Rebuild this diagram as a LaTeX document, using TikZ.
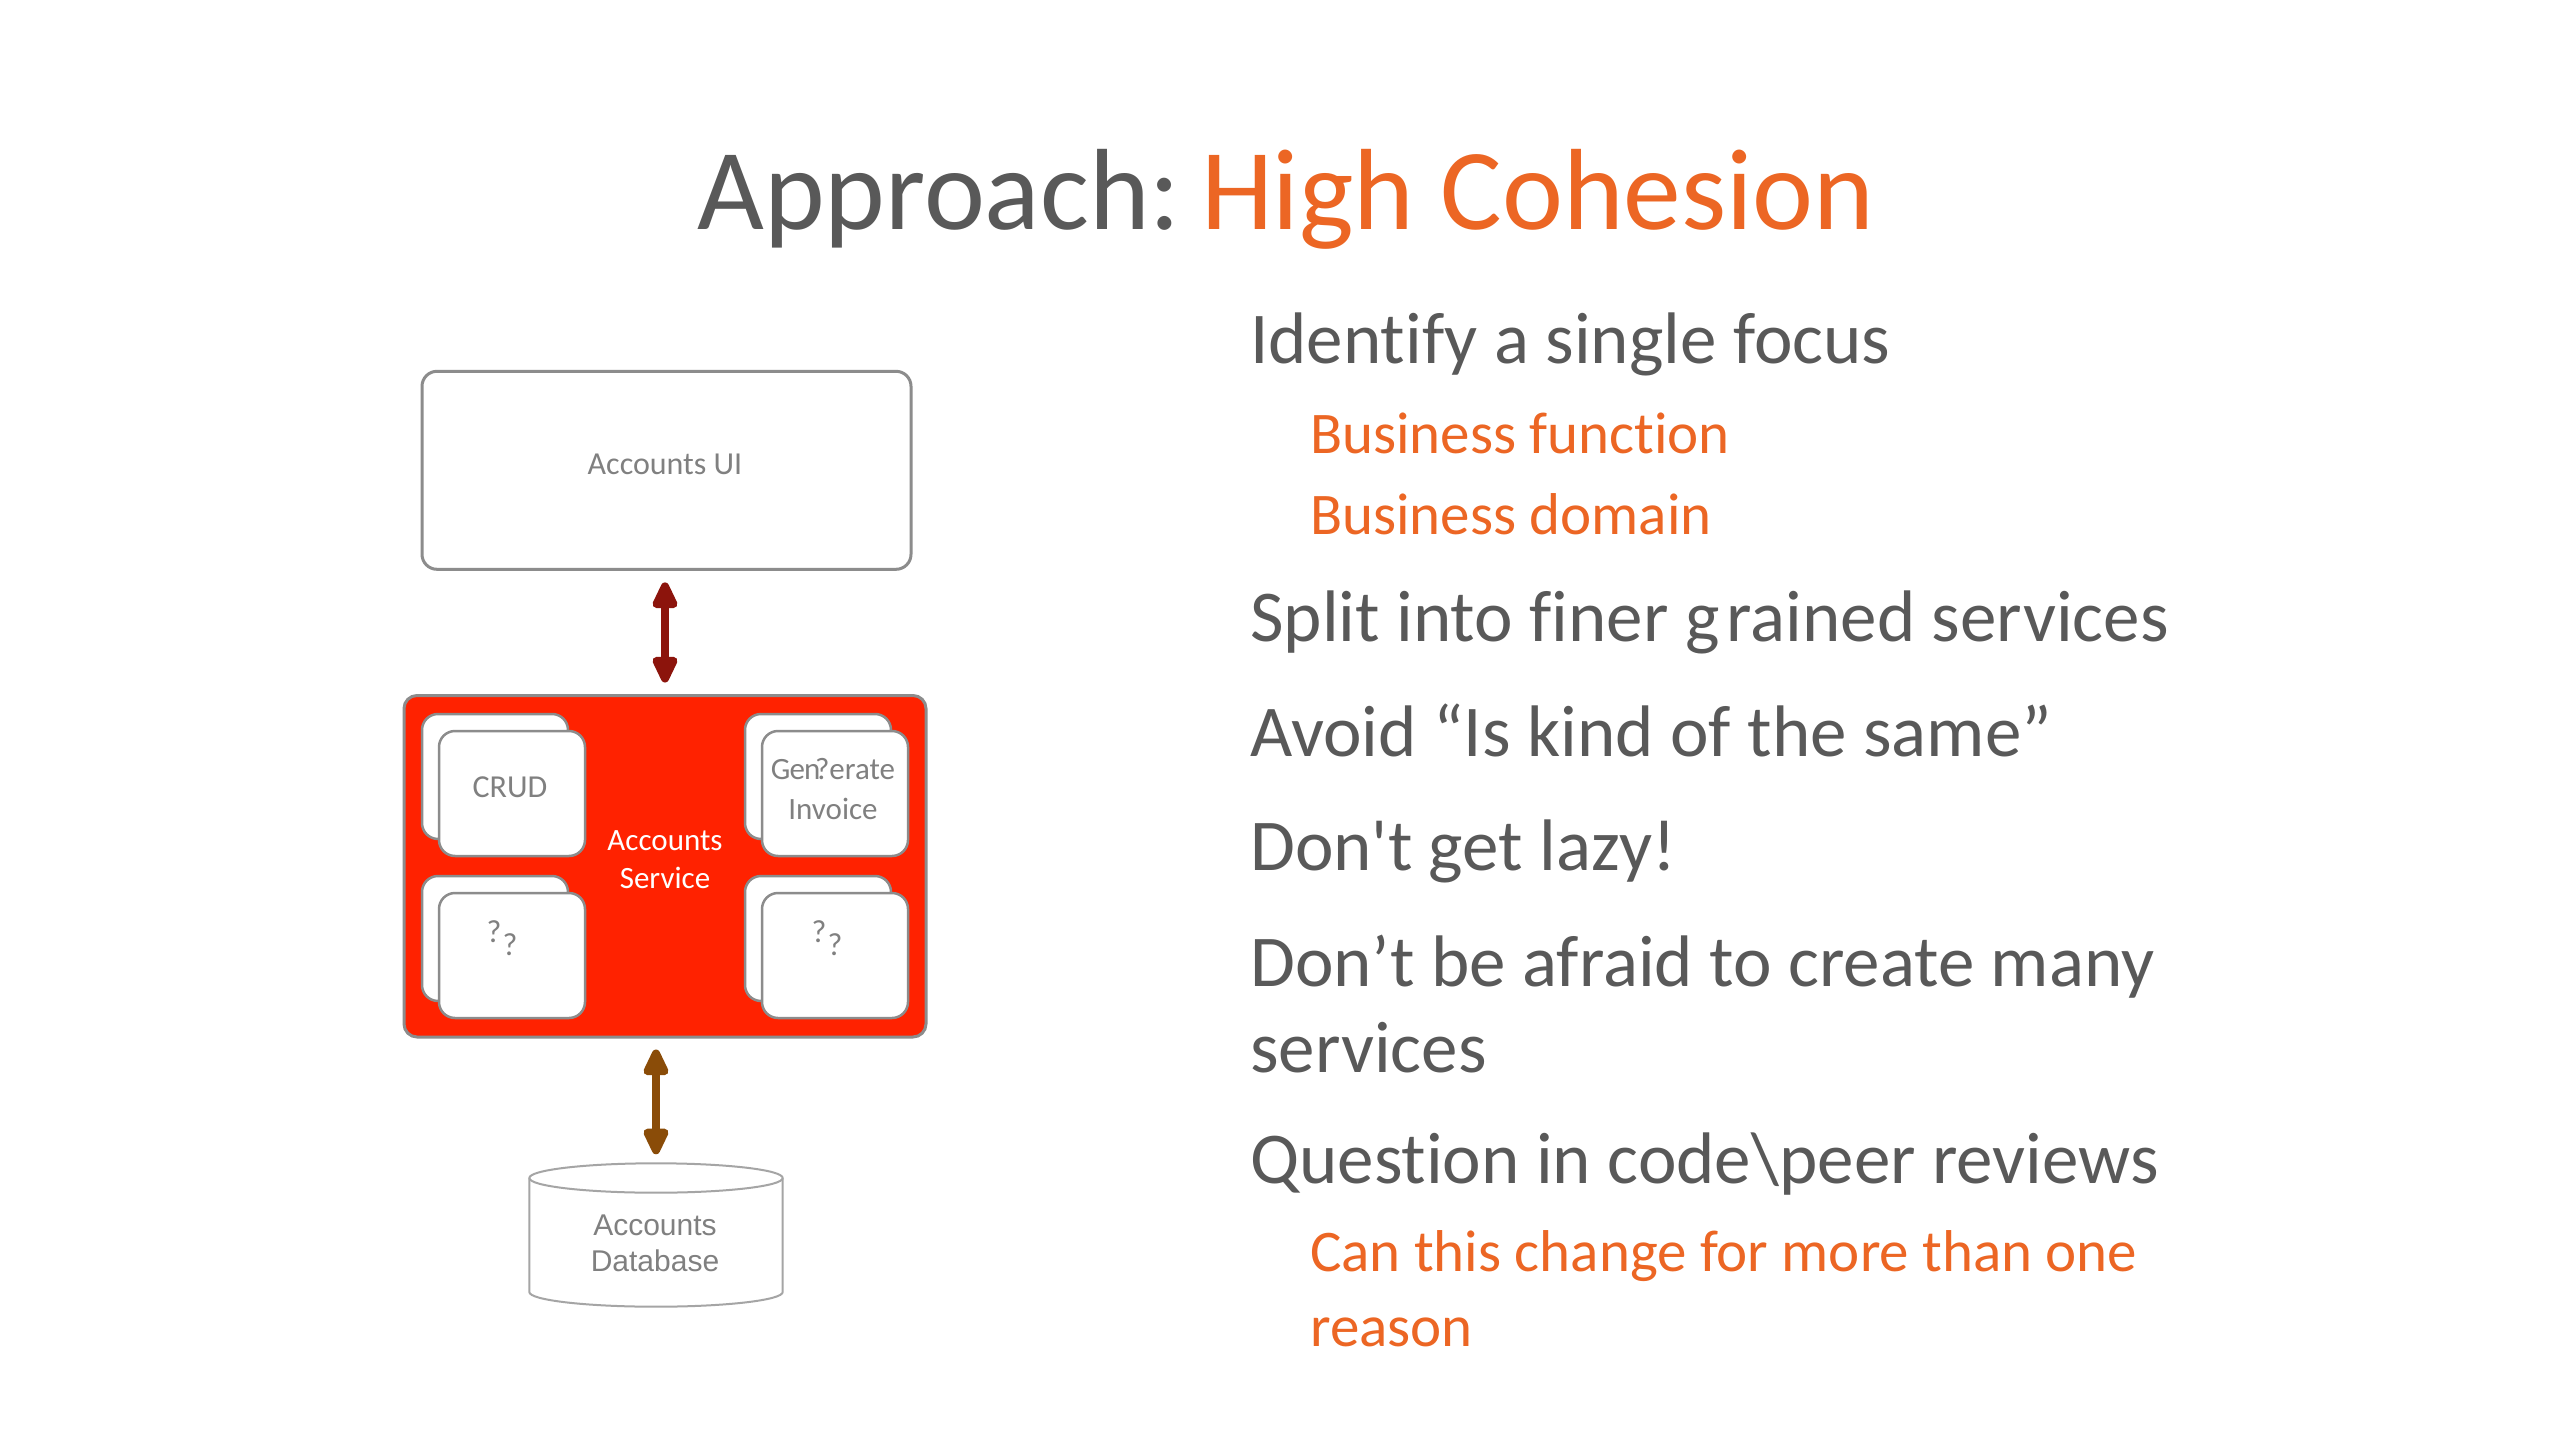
\documentclass[tikz,border=0pt]{standalone}
\usepackage{fontspec}
\setmainfont{Carlito}[Ligatures={TeX,NoCommon}]
\newfontfamily\dbfont{Liberation Sans}
\usetikzlibrary{arrows.meta}
\definecolor{txtgray}{RGB}{89,89,89}
\definecolor{hiorange}{RGB}{236,102,36}
\definecolor{boxgray}{RGB}{140,140,140}
\definecolor{lbl}{RGB}{128,128,128}
\definecolor{svcred}{RGB}{255,34,0}
\definecolor{arrred}{RGB}{140,20,12}
\definecolor{arrbrown}{RGB}{138,76,8}
\definecolor{dbgray}{RGB}{165,165,165}
\begin{document}
\begin{tikzpicture}[x=1pt,y=-1pt,
  bodytxt/.style={anchor=base west, inner sep=0pt, text=txtgray, font=\fontsize{73}{88}\selectfont},
  subtxt/.style={anchor=base west, inner sep=0pt, text=hiorange, font=\fontsize{59}{71}\selectfont},
  uibox/.style={draw=boxgray, line width=3pt, rounded corners=15pt, fill=white, inner sep=0pt},
  svcbox/.style={draw=boxgray, line width=3pt, rounded corners=13pt, fill=svcred, inner sep=0pt},
  card/.style={draw=boxgray, line width=2.5pt, rounded corners=16pt, fill=white, inner sep=0pt, minimum width=146pt, minimum height=125pt},
  lbltxt/.style={anchor=base, inner sep=0pt, text=lbl, font=\fontsize{32}{38}\selectfont},
  svctxt/.style={anchor=base, inner sep=0pt, text=white, font=\fontsize{31}{37}\selectfont},
  dbtxt/.style={anchor=base, inner sep=0pt, text=lbl, font=\dbfont\fontsize{30}{36}\selectfont},
  dblarrow/.style={line width=8.5pt, {Triangle[width=27pt,length=32pt,round]}-{Triangle[width=27pt,length=32pt,round]}}
]
\fill[white] (0,0) rectangle (2560,1439);
\useasboundingbox (0,0) rectangle (2560,1439);

% title
\node[anchor=base, inner sep=0pt, font=\fontsize{115.5}{138}\selectfont] (title) at (1286,230)
  {\textcolor{txtgray}{Approach:\kern-0.05em\ }\textcolor{hiorange}{High Cohesion}};

% right-hand text
\node[bodytxt] (t1) at (1250,363) {Identify a single focus};
\node[subtxt] (s1) at (1310,453) {Business function};
\node[subtxt] (s2) at (1310,534) {Business domain};
\node[bodytxt] (t2) at (1250,641) {Split into finer g\kern0.1em rained services};
\node[bodytxt] (t3) at (1250,756) {Avoid “Is kind of the same”};
\node[bodytxt] (t4) at (1250,870) {Don\textquotesingle t get lazy!};
\node[bodytxt] (t5) at (1250,986) {Don’t be afraid to create many};
\node[bodytxt] (t6) at (1250,1072) {services};
\node[bodytxt] (t7) at (1250,1183) {Question in code\textbackslash peer reviews};
\node[subtxt] (s3) at (1310,1271) {Can this change for more than one};
\node[subtxt] (s4) at (1310,1346) {reason};

% Accounts UI
\node[uibox, minimum width=489pt, minimum height=198pt] (ui) at (666.5,470.3) {};
\node[lbltxt] (uitxt) at (665,474) {Accounts UI};

% Accounts Service
\node[svcbox, minimum width=522pt, minimum height=341.5pt] (svc) at (665,866.25) {};
\node[svctxt] (svcA) at (665,850.6) {Accounts};
\node[svctxt] (svcB) at (665,888.2) {Service};

% stacked cards
\node[card] (tlb) at (495,776.5) {};
\node[card] (tlf) at (512,793.5) {};
\node[card] (trb) at (818,776.5) {};
\node[card] (trf) at (835,793.5) {};
\node[card] (blb) at (495,938.5) {};
\node[card] (blf) at (512,955.5) {};
\node[card] (brb) at (818,938.5) {};
\node[card] (brf) at (835,955.5) {};

\node[lbltxt] (crud) at (510,797.3) {CRUD};
\node[lbltxt, font=\fontsize{31}{37}\selectfont] (gen) at (833,779.3) {G\kern-0.03em e\kern-0.03em n\kern-0.17em ?erate};
\node[lbltxt, font=\fontsize{31}{37}\selectfont] (inv) at (833,819) {Invoice};
\node[lbltxt] (q1a) at (494,942) {?};
\node[lbltxt] (q1b) at (510,955) {?};
\node[lbltxt] (q2a) at (819,942) {?};
\node[lbltxt] (q2b) at (835,955) {?};

% database
\coordinate (dbtop) at (656,1163.3);
\filldraw[draw=dbgray, fill=white, line width=2pt]
  (529.3,1178) -- (529.3,1292)
  arc[start angle=180, end angle=360, x radius=126.7pt, y radius=14.7pt]
  -- (782.7,1178)
  arc[start angle=0, end angle=180, x radius=126.7pt, y radius=14.7pt] -- cycle;
\draw[draw=dbgray, line width=2pt] (529.3,1178)
  arc[start angle=180, end angle=360, x radius=126.7pt, y radius=14.7pt];
\node[dbtxt] (dbA) at (655,1235) {Accounts};
\node[dbtxt] (dbB) at (655,1271.7) {Database};

% connectors
\draw[dblarrow, color=arrred, shorten <=11.6pt, shorten >=11.5pt] (ui.south -| svc.north) -- (svc.north);
\draw[dblarrow, color=arrbrown, shorten <=11pt, shorten >=9pt] (svc.south -| dbtop) -- (dbtop);
\end{tikzpicture}
\end{document}
